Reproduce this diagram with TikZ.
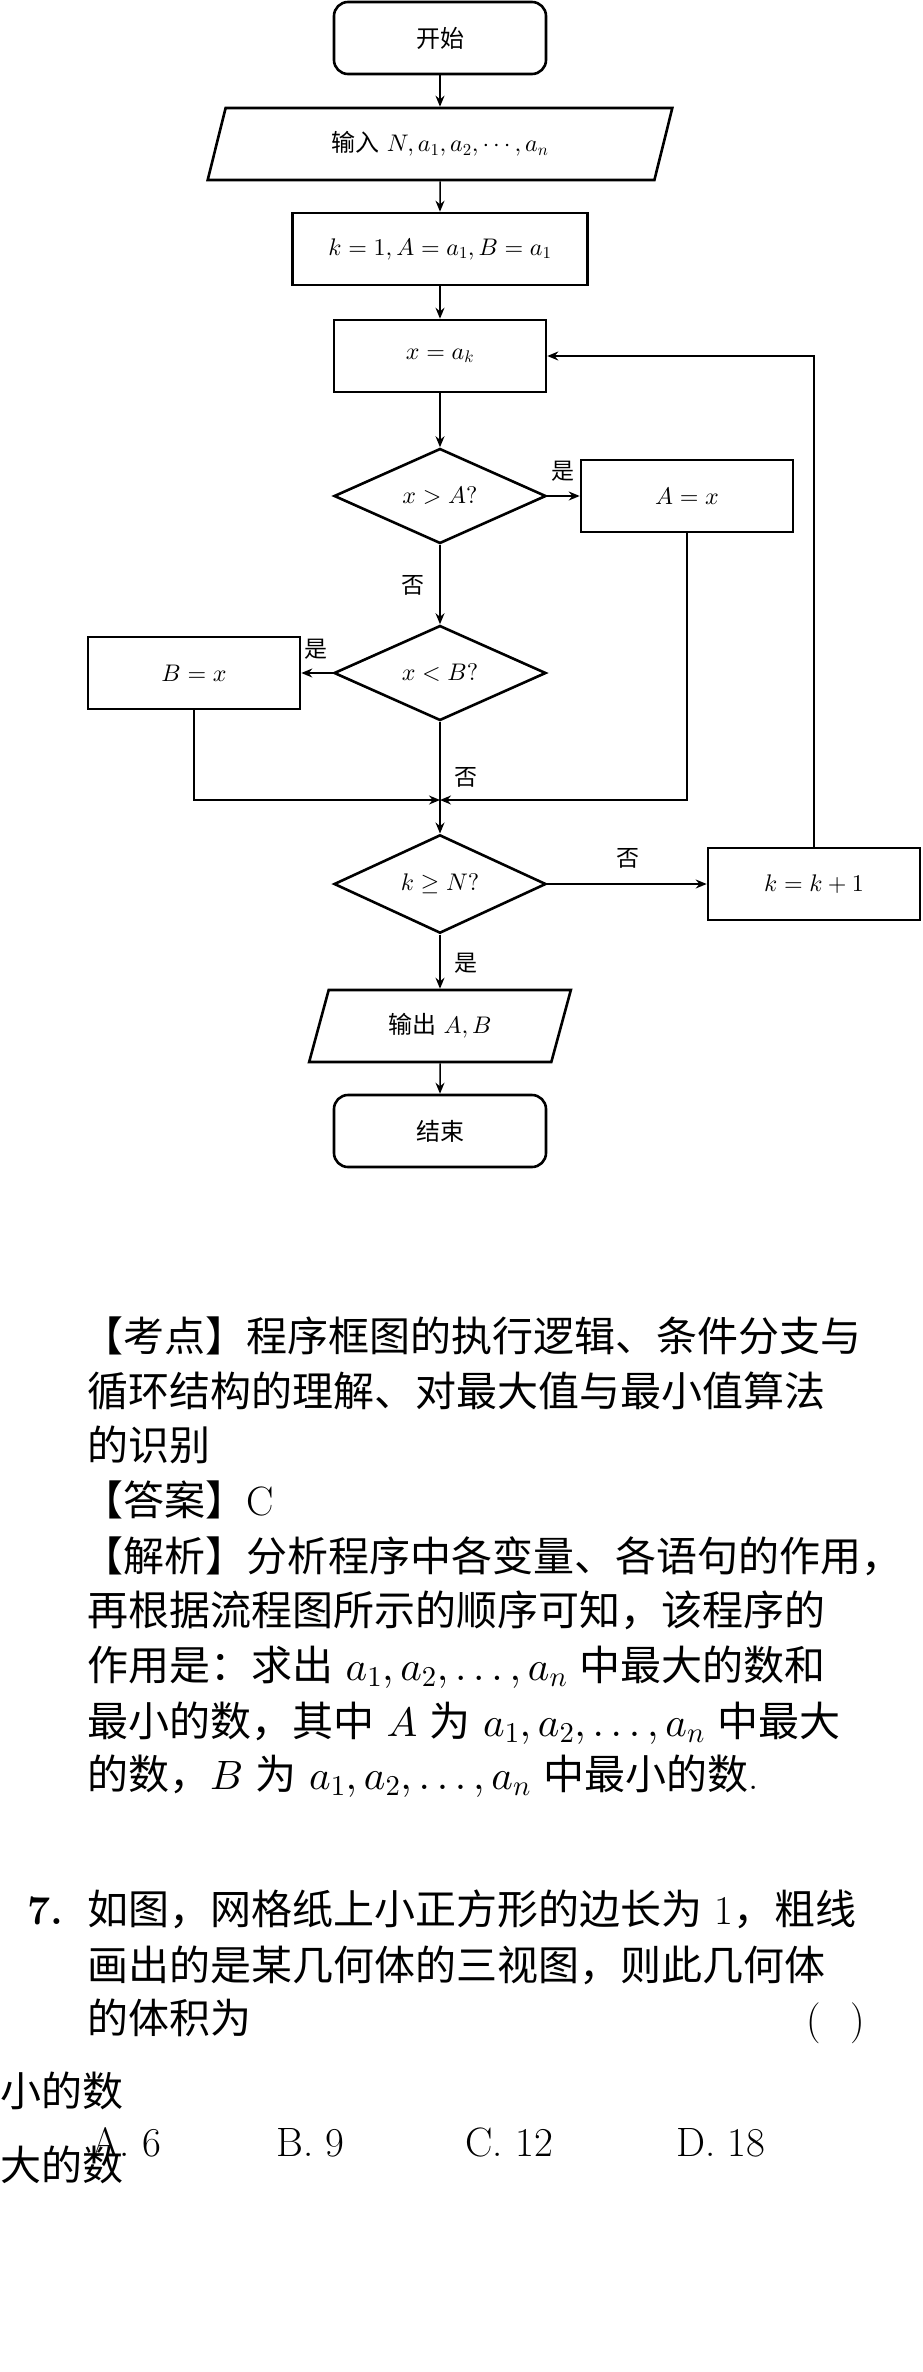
\documentclass[tikz,border=0pt]{standalone}
\usepackage{fontspec}
\DeclareFontShape{OML}{cmm}{m}{it}{<->cmmi10}{}
\DeclareFontShape{OMS}{cmsy}{m}{n}{<->cmsy10}{}
\DeclareFontShape{OMX}{cmex}{m}{n}{<->cmex10}{}
\DeclareFontShape{OT1}{cmr}{m}{n}{<->cmr10}{}
\newfontfamily\cjk{Noto Sans CJK SC}
\usetikzlibrary{shapes.geometric,arrows.meta}
\begin{document}
\begin{tikzpicture}[x=1pt,y=-1pt,
  box/.style={draw,line width=2.6pt,minimum width=212pt,minimum height=72pt,inner sep=0pt,font=\fontsize{24}{28}\selectfont},
  term/.style={box,rounded corners=14pt},
  dia/.style={draw,diamond,line width=2.6pt,minimum width=212pt,minimum height=95pt,inner sep=0pt,font=\fontsize{24}{28}\selectfont},
  io/.style={draw,trapezium,trapezium left angle=70,trapezium right angle=110,trapezium stretches=true,line width=2.6pt,minimum height=72pt,inner sep=0pt,font=\fontsize{24}{28}\selectfont},
  arr/.style={line width=1.5pt,-{Stealth[length=11pt,width=9pt]}},
  ln/.style={line width=1.5pt},
  lab/.style={font=\fontsize{23}{25}\selectfont\cjk,inner sep=1pt},
  tx/.style={anchor=base west,inner sep=0pt,font=\fontsize{41}{48}\selectfont}]
\useasboundingbox (0,0) rectangle (922,2372);
\node[term] (start) at (440,38) {\cjk 开始};
\node[io,minimum width=466pt] (inp) at (440,144) {{\cjk 输入} $N,a_1,a_2,\cdots,a_n$};
\node[box,minimum width=295pt] (init) at (440,249) {$k=1,A=a_1,B=a_1$};
\node[box] (xa) at (440,356) {$x=a_k$};
\node[dia] (d1) at (440,496) {$x>A?$};
\node[box] (ax) at (687,496) {$A=x$};
\node[dia] (d2) at (440,673) {$x<B?$};
\node[box] (bx) at (194,673) {$B=x$};
\coordinate (m) at (440,800);
\node[dia] (d3) at (440,884) {$k\geq N?$};
\node[box] (kk) at (814,884) {$k=k+1$};
\node[io,minimum width=262pt] (out) at (440,1026) {{\cjk 输出} $A,B$};
\node[term] (end) at (440,1131) {\cjk 结束};
\draw[arr] (start) -- (inp);
\draw[arr] (inp) -- (init);
\draw[arr] (init) -- (xa);
\draw[arr] (xa) -- (d1);
\draw[arr] (d1) -- (ax);
\draw[arr] (d1) -- (d2);
\draw[arr] (d2) -- (bx);
\draw[ln] (d2) -- (m);
\draw[arr] (bx.south) |- (m);
\draw[arr] (ax.south) |- (m);
\draw[arr] (m) -- (d3);
\draw[arr] (d3) -- (kk);
\draw[arr] (kk.north) |- (xa.east);
\draw[arr] (d3) -- (out);
\draw[arr] (out) -- (end);
\node[lab] (l1) at (563,471) {是};
\node[lab] (l2) at (413,585) {否};
\node[lab] (l3) at (316,649) {是};
\node[lab] (l4) at (466,777) {否};
\node[lab] (l5) at (628,858) {否};
\node[lab] (l6) at (466,963) {是};
\node[tx] (t1) at (82,1351) {{\cjk 【考点】程序框图的执行逻辑、条件分支与}};
\node[tx] (t2) at (87,1406) {{\cjk 循环结构的理解、对最大值与最小值算法}};
\node[tx] (t3) at (87,1460) {{\cjk 的识别}};
\node[tx] (t4) at (82,1515) {{\cjk 【答案】}C};
\node[tx] (t5) at (82,1571) {{\cjk 【解析】分析程序中各变量、各语句的作用，}};
\node[tx] (t6) at (87,1625) {{\cjk 再根据流程图所示的顺序可知，该程序的}};
\node[tx] (t7) at (87,1680) {{\cjk 作用是：求出} $a_1,a_2,\ldots,a_n$ {\cjk 中最大的数和}};
\node[tx] (t8) at (87,1736) {{\cjk 最小的数，其中} $A$ {\cjk 为} $a_1,a_2,\ldots,a_n$ {\cjk 中最大}};
\node[tx] (t9) at (87,1789) {{\cjk 的数，}$B$ {\cjk 为} $a_1,a_2,\ldots,a_n$ {\cjk 中最小的数}.};
\node[tx] (q0) at (27,1924) {\textbf{7.}};
\node[tx] (q1) at (87,1924) {{\cjk 如图，网格纸上小正方形的边长为} 1{\cjk ，粗线}};
\node[tx] (q2) at (87,1980) {{\cjk 画出的是某几何体的三视图，则此几何体}};
\node[tx] (q3) at (87,2033) {{\cjk 的体积为}};
\node[tx] (q4) at (806,2033) {(\hspace{30pt})};
\node[tx] (s1) at (0,2106) {{\cjk 小的数}};
\node[tx] (oa) at (91,2156) {A. 6};
\node[tx] (ob) at (276,2156) {B. 9};
\node[tx] (oc) at (465,2156) {C. 12};
\node[tx] (od) at (676,2156) {D. 18};
\node[tx] (s2) at (0,2180) {{\cjk 大的数}};
\end{tikzpicture}
\end{document}
